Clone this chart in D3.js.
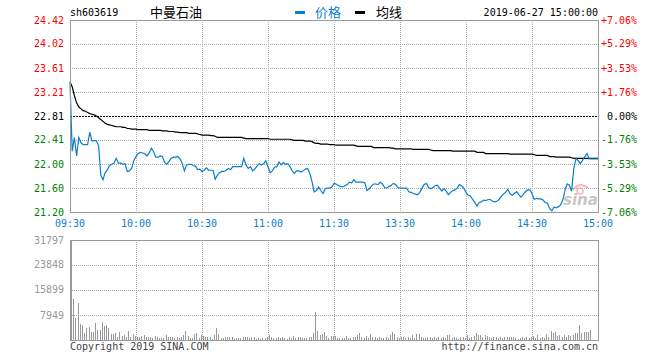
<!DOCTYPE html>
<html>
<head>
<meta charset="utf-8" />
<title>sh603619</title>
<script src="https://cdn.jsdelivr.net/npm/d3@7"></script>
<style>
    body { margin: 0; background: #fff; }
    .mono { font: 10px "DejaVu Sans Mono", monospace; }
    .grid { stroke: #aaa; stroke-width: 1; stroke-dasharray: 1,1; shape-rendering: crispEdges; }
    .frame { stroke: #999; stroke-width: 1; fill: none; shape-rendering: crispEdges; }
</style>
</head>
<body>
<svg id="chart" width="660" height="360"></svg>
<script>
// price axis (left) and change axis (right)
var priceTicks = [24.42, 24.02, 23.61, 23.21, 22.81, 22.41, 22.00, 21.60, 21.20];
var priceLabels = ["24.42", "24.02", "23.61", "23.21", "22.81", "22.41", "22.00", "21.60", "21.20"];
var pctLabels = ["+7.06%", "+5.29%", "+3.53%", "+1.76%", "0.00%", "-1.76%", "-3.53%", "-5.29%", "-7.06%"];
var prevClose = 22.81;

var volTicks = [31797, 23848, 15899, 7949];

var timeLabels = ["09:30", "10:00", "10:30", "11:00", "11:30", "13:30", "14:00", "14:30", "15:00"];
var timeIdx = [0, 30, 60, 90, 120, 150, 180, 210, 240];

// one value per minute, 09:30-11:30 then 13:01-15:00
var price = [
    23.38, 22.22, 22.45, 22.14, 22.45, 22.36, 22.33, 22.33, 22.33, 22.54,
    22.39, 22.40, 22.39, 22.31, 21.82, 21.74, 21.86, 21.91, 21.98, 22.00,
    22.02, 22.10, 22.02, 22.02, 22.00, 22.01, 21.88, 21.89, 21.93, 22.06,
    22.13, 22.18, 22.20, 22.19, 22.18, 22.14, 22.19, 22.27, 22.21, 22.12,
    22.12, 22.14, 22.13, 22.03, 22.00, 22.05, 22.10, 22.12, 22.12, 22.13,
    22.09, 22.02, 21.89, 21.99, 22.00, 22.00, 21.98, 21.97, 21.91, 21.92,
    21.88, 21.90, 21.94, 21.90, 21.90, 21.90, 21.75, 21.82, 21.86, 21.88,
    21.88, 21.90, 21.93, 21.91, 21.96, 21.96, 21.96, 21.96, 21.96, 22.10,
    21.99, 21.93, 21.96, 21.89, 21.92, 21.97, 22.01, 21.99, 22.01, 22.06,
    21.96, 21.86, 21.89, 21.95, 21.96, 22.04, 21.99, 22.03, 22.00, 22.01,
    21.96, 21.89, 21.85, 21.89, 21.89, 21.87, 21.89, 21.92, 21.93, 21.85,
    21.71, 21.54, 21.56, 21.62, 21.56, 21.51, 21.59, 21.60, 21.60, 21.62,
    21.68, 21.67, 21.64, 21.63, 21.62, 21.64, 21.66, 21.70, 21.69, 21.74,
    21.70, 21.70, 21.70, 21.70, 21.69, 21.56, 21.59, 21.63, 21.67, 21.67,
    21.66, 21.70, 21.67, 21.61, 21.60, 21.63, 21.65, 21.68, 21.66, 21.61,
    21.60, 21.60, 21.60, 21.60, 21.54, 21.53, 21.51, 21.50, 21.49, 21.53,
    21.60, 21.66, 21.68, 21.61, 21.59, 21.61, 21.64, 21.65, 21.60, 21.55,
    21.59, 21.55, 21.49, 21.53, 21.56, 21.57, 21.60, 21.66, 21.64, 21.60,
    21.53, 21.48, 21.47, 21.41, 21.36, 21.30, 21.36, 21.37, 21.40, 21.39,
    21.41, 21.41, 21.38, 21.37, 21.38, 21.41, 21.46, 21.50, 21.53, 21.58,
    21.51, 21.48, 21.51, 21.54, 21.49, 21.45, 21.49, 21.54, 21.57, 21.57,
    21.51, 21.41, 21.43, 21.42, 21.42, 21.40, 21.36, 21.35, 21.26, 21.22,
    21.28, 21.27, 21.29, 21.32, 21.40, 21.57, 21.67, 21.65, 21.55, 21.93,
    22.10, 22.06, 22.01, 22.07, 22.13, 22.18, 22.09, 22.09, 22.09, 22.09,
    22.09
];

var avgPrice = [
    23.38, 23.30, 23.15, 23.03, 22.96, 22.93, 22.90, 22.89, 22.87, 22.85,
    22.84, 22.83, 22.81, 22.78, 22.75, 22.72, 22.69, 22.67, 22.66, 22.65,
    22.64, 22.63, 22.63, 22.63, 22.62, 22.62, 22.60, 22.60, 22.59, 22.59,
    22.59, 22.58, 22.58, 22.58, 22.58, 22.58, 22.57, 22.57, 22.57, 22.57,
    22.57, 22.57, 22.56, 22.56, 22.56, 22.55, 22.55, 22.55, 22.54, 22.54,
    22.53, 22.53, 22.53, 22.53, 22.52, 22.52, 22.52, 22.52, 22.51, 22.50,
    22.49, 22.49, 22.49, 22.49, 22.48, 22.48, 22.47, 22.45, 22.45, 22.45,
    22.45, 22.45, 22.45, 22.45, 22.45, 22.45, 22.45, 22.45, 22.45, 22.44,
    22.43, 22.43, 22.43, 22.43, 22.43, 22.43, 22.43, 22.43, 22.43, 22.43,
    22.43, 22.42, 22.42, 22.42, 22.42, 22.42, 22.42, 22.42, 22.42, 22.42,
    22.42, 22.41, 22.40, 22.40, 22.40, 22.40, 22.40, 22.39, 22.39, 22.39,
    22.38, 22.36, 22.35, 22.35, 22.34, 22.34, 22.34, 22.34, 22.33, 22.33,
    22.33, 22.32, 22.32, 22.32, 22.32, 22.32, 22.32, 22.32, 22.32, 22.32,
    22.31, 22.30, 22.30, 22.30, 22.30, 22.30, 22.30, 22.30, 22.28, 22.28,
    22.28, 22.28, 22.28, 22.28, 22.28, 22.28, 22.27, 22.27, 22.26, 22.26,
    22.26, 22.26, 22.26, 22.26, 22.26, 22.26, 22.25, 22.25, 22.25, 22.25,
    22.25, 22.25, 22.25, 22.25, 22.24, 22.23, 22.23, 22.23, 22.23, 22.23,
    22.23, 22.23, 22.23, 22.23, 22.22, 22.22, 22.22, 22.22, 22.22, 22.22,
    22.22, 22.22, 22.22, 22.22, 22.22, 22.20, 22.20, 22.20, 22.20, 22.18,
    22.18, 22.18, 22.18, 22.18, 22.18, 22.18, 22.18, 22.18, 22.18, 22.18,
    22.17, 22.17, 22.17, 22.17, 22.17, 22.17, 22.17, 22.17, 22.17, 22.17,
    22.17, 22.16, 22.15, 22.15, 22.15, 22.15, 22.15, 22.15, 22.13, 22.13,
    22.13, 22.12, 22.12, 22.12, 22.12, 22.12, 22.12, 22.12, 22.11, 22.10,
    22.10, 22.10, 22.10, 22.10, 22.10, 22.10, 22.10, 22.10, 22.10, 22.10,
    22.10
];

var volume = [
    31797, 13040, 6890, 11870, 5090, 4770, 2120, 3710, 4030, 2650,
    2650, 5410, 3180, 3180, 5830, 4450, 4770, 3710, 1910, 1910,
    2120, 1060, 2440, 1270, 1590, 1060, 2860, 1060, 1910, 1270,
    1060, 850, 1270, 1480, 1060, 850, 1060, 640, 1270, 850,
    640, 640, 640, 1480, 1060, 850, 1060, 640, 1060, 640,
    850, 1480, 2860, 1270, 640, 640, 1910, 2120, 640, 1590,
    1270, 1060, 850, 1060, 420, 1590, 3710, 1910, 640, 640,
    1060, 850, 850, 1060, 420, 530, 640, 640, 850, 950,
    950, 530, 850, 850, 420, 640, 420, 640, 640, 1060,
    1700, 1060, 640, 640, 850, 640, 950, 640, 420, 850,
    640, 1270, 640, 850, 1060, 640, 530, 530, 1060, 1060,
    2120, 9010, 2860, 1590, 1800, 2440, 1270, 530, 1270, 1270,
    1270, 640, 640, 640, 640, 1270, 640, 640, 850, 1060,
    1590, 2120, 850, 640, 1270, 640, 1800, 850, 1060, 640,
    1060, 640, 640, 1060, 640, 1590, 2650, 1800, 1060, 640,
    850, 850, 640, 1060, 640, 1480, 640, 1910, 1910, 850,
    640, 530, 850, 1060, 640, 850, 530, 850, 640, 850,
    530, 1590, 1590, 640, 850, 530, 420, 850, 1060, 640,
    1480, 640, 850, 1270, 2120, 1590, 1590, 850, 1590, 1270,
    850, 640, 1060, 850, 640, 850, 640, 850, 850, 1060,
    1060, 850, 640, 420, 640, 1060, 640, 850, 640, 1060,
    1270, 640, 1590, 640, 1060, 640, 1910, 1060, 2860, 2120,
    2650, 1270, 1590, 1060, 1590, 850, 1590, 1270, 1590, 2120,
    2330, 4770, 2330, 2650, 2650, 2650, 3180, 0, 0, 0,
    0
];

var blue = "#0a7fcc", red = "#ff0000", green = "#008000";

var svg = d3.select("#chart");
var left = 70, right = 598;
var pTop = 20, pBottom = 212, vTop = 240, vBottom = 340;

var x = d3.scaleLinear().domain([0, 240]).range([left, right]);
var y = d3.scaleLinear().domain([21.20, 24.42]).range([pBottom, pTop]);
var yv = d3.scaleLinear().domain([0, 31797]).range([vBottom, vTop]);

function tickColor(i) { return i < 4 ? red : (i == 4 ? "#000" : green); }

// header
svg.append("text").attr("class", "mono").attr("x", 70).attr("y", 16).attr("fill", "#000").text("sh603619");
svg.append("text").attr("x", 150).attr("y", 17)
    .style("font", "13px 'Noto Sans CJK SC', sans-serif").attr("fill", "#000").text("中曼石油");
svg.append("rect").attr("x", 295).attr("y", 11).attr("width", 10).attr("height", 3).attr("fill", blue);
svg.append("text").attr("x", 315).attr("y", 17)
    .style("font", "13px 'Noto Sans CJK SC', sans-serif").attr("fill", blue).text("价格");
svg.append("rect").attr("x", 355).attr("y", 11).attr("width", 10).attr("height", 3).attr("fill", "#000");
svg.append("text").attr("x", 376).attr("y", 17)
    .style("font", "13px 'Noto Sans CJK SC', sans-serif").attr("fill", "#000").text("均线");
svg.append("text").attr("class", "mono").attr("x", 598).attr("y", 16)
    .attr("text-anchor", "end").attr("fill", "#000").text("2019-06-27 15:00:00");

// watermark
var wm = svg.append("g").attr("opacity", 0.55);
wm.append("path").attr("d", "M573,190 Q580,181 588,188").attr("fill", "none").attr("stroke", "#f08080").attr("stroke-width", 2);
wm.append("circle").attr("cx", 580).attr("cy", 191).attr("r", 3).attr("fill", "none").attr("stroke", "#f08080").attr("stroke-width", 1.5);
wm.append("text").attr("x", 563).attr("y", 205)
    .style("font", "italic bold 15px 'DejaVu Sans', sans-serif").attr("fill", "#999").text("sina");

// grids
var vGrid = timeIdx.slice(1, 8);
svg.append("g").selectAll("line").data(vGrid).enter().append("line")
    .attr("class", "grid")
    .attr("x1", function (d) { return Math.round(x(d)) + 0.5; })
    .attr("x2", function (d) { return Math.round(x(d)) + 0.5; })
    .attr("y1", pTop).attr("y2", pBottom);
svg.append("g").selectAll("line").data(vGrid).enter().append("line")
    .attr("class", "grid")
    .attr("x1", function (d) { return Math.round(x(d)) + 0.5; })
    .attr("x2", function (d) { return Math.round(x(d)) + 0.5; })
    .attr("y1", vTop).attr("y2", vBottom);

svg.append("g").selectAll("line").data(priceTicks.slice(1, 8)).enter().append("line")
    .attr("class", "grid")
    .attr("x1", left).attr("x2", right)
    .attr("y1", function (d) { return Math.round(y(d)) + 0.5; })
    .attr("y2", function (d) { return Math.round(y(d)) + 0.5; })
    .style("stroke", function (d) { return d == prevClose ? "#000" : null; })
    .style("stroke-dasharray", function (d) { return d == prevClose ? "2,1" : null; });

svg.append("g").selectAll("line").data(volTicks.slice(1)).enter().append("line")
    .attr("class", "grid")
    .attr("x1", left).attr("x2", right)
    .attr("y1", function (d) { return Math.round(yv(d)) + 0.5; })
    .attr("y2", function (d) { return Math.round(yv(d)) + 0.5; });

// tick labels
svg.append("g").selectAll("text").data(priceLabels).enter().append("text")
    .attr("class", "mono").attr("x", 64).attr("text-anchor", "end")
    .attr("y", function (d, i) { return y(priceTicks[i]) + 3.5; })
    .attr("fill", function (d, i) { return tickColor(i); })
    .text(function (d) { return d; });
svg.append("g").selectAll("text").data(pctLabels).enter().append("text")
    .attr("class", "mono").attr("x", 637).attr("text-anchor", "end")
    .attr("y", function (d, i) { return y(priceTicks[i]) + 3.5; })
    .attr("fill", function (d, i) { return tickColor(i); })
    .text(function (d) { return d; });
svg.append("g").selectAll("text").data(timeLabels).enter().append("text")
    .attr("class", "mono").attr("text-anchor", "middle")
    .attr("x", function (d, i) { return x(timeIdx[i]); })
    .attr("y", 227).attr("fill", blue)
    .text(function (d) { return d; });
svg.append("g").selectAll("text").data(volTicks).enter().append("text")
    .attr("class", "mono").attr("x", 64).attr("text-anchor", "end")
    .attr("y", function (d) { return yv(d) + 3.5; })
    .attr("fill", "#999")
    .text(function (d) { return d; });

// volume bars
svg.append("g").selectAll("rect").data(volume).enter().append("rect")
    .attr("x", function (d, i) { return Math.round(x(i)) + 1; })
    .attr("width", 1)
    .attr("y", function (d) { return yv(d); })
    .attr("height", function (d) { return vBottom - yv(d); })
    .attr("fill", "#999")
    .attr("shape-rendering", "crispEdges");

// lines
var line = d3.line().x(function (d, i) { return x(i); }).y(function (d) { return y(d); });
svg.append("path").datum(avgPrice).attr("d", line)
    .attr("fill", "none").attr("stroke", "#000").attr("stroke-width", 1.2);
svg.append("path").datum(price).attr("d", line)
    .attr("fill", "none").attr("stroke", blue).attr("stroke-width", 1.2);

// frames
svg.append("rect").attr("class", "frame").attr("x", left + 0.5).attr("y", pTop + 0.5)
    .attr("width", right - left).attr("height", pBottom - pTop);
svg.append("rect").attr("class", "frame").attr("x", left + 0.5).attr("y", vTop + 0.5)
    .attr("width", right - left).attr("height", vBottom - vTop);

// footer
svg.append("text").attr("class", "mono").attr("x", 70).attr("y", 350).attr("fill", "#444").text("Copyright 2019 SINA.COM");
svg.append("text").attr("class", "mono").attr("x", 598).attr("y", 350).attr("text-anchor", "end")
    .attr("fill", "#444").text("http://finance.sina.com.cn");
</script>
</body>
</html>
